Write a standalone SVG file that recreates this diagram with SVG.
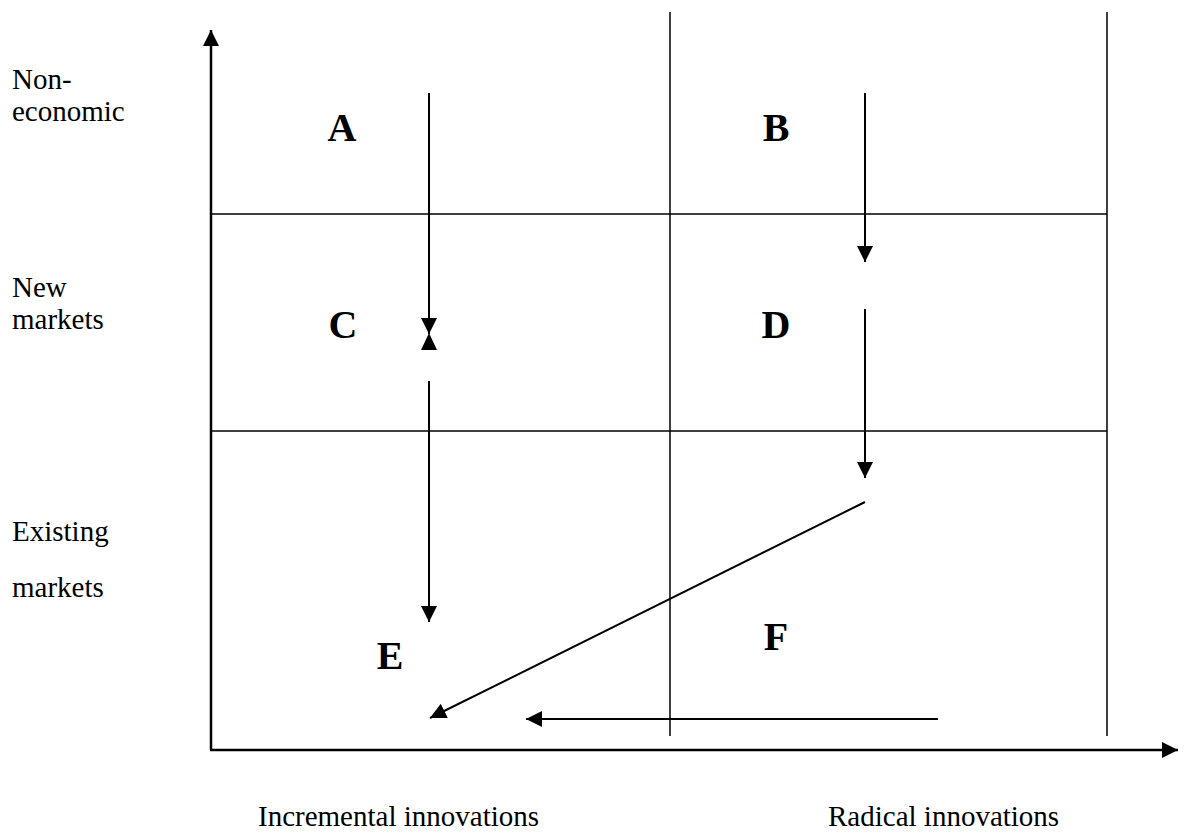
<svg xmlns="http://www.w3.org/2000/svg" width="1184" height="833" viewBox="0 0 1184 833">
<style>
.lbl{font-family:"Liberation Serif","Times New Roman",serif;font-size:29px;fill:#000}
.big{font-family:"Liberation Serif","Times New Roman",serif;font-size:40px;font-weight:bold;fill:#000;text-anchor:middle}
.grid{stroke:#000;stroke-width:1.5;fill:none}
.axis{stroke:#000;stroke-width:2.5;fill:none}
.arr{stroke:#000;stroke-width:2;fill:none}
</style>
<defs>
<marker id="ah" viewBox="0 0 16 16" refX="16" refY="8" markerWidth="16" markerHeight="16" markerUnits="userSpaceOnUse" orient="auto">
<path d="M0,0 L16,8 L0,16 z" fill="#000"/>
</marker>
</defs>
<rect width="1184" height="833" fill="#fff"/>
<g id="grid">
<line class="grid" x1="670" y1="12" x2="670" y2="736"/>
<line class="grid" x1="1107" y1="12" x2="1107" y2="736"/>
<line class="grid" x1="210" y1="214" x2="1107" y2="214"/>
<line class="grid" x1="210" y1="431" x2="1107" y2="431"/>
</g>
<g id="axes">
<line class="axis" x1="211" y1="750" x2="211" y2="30" marker-end="url(#ah)"/>
<line class="axis" x1="210" y1="750" x2="1178" y2="750" marker-end="url(#ah)"/>
</g>
<g id="connectors">
<line class="arr" x1="429" y1="93" x2="429" y2="334" marker-end="url(#ah)"/>
<polygon points="429,333 421,350 437,350" fill="#000"/>
<line class="arr" x1="429" y1="381" x2="429" y2="622" marker-end="url(#ah)"/>
<line class="arr" x1="865" y1="93" x2="865" y2="262" marker-end="url(#ah)"/>
<line class="arr" x1="865" y1="309" x2="865" y2="478" marker-end="url(#ah)"/>
<line class="arr" x1="865" y1="502" x2="430" y2="718" marker-end="url(#ah)"/>
<line class="arr" x1="938" y1="719" x2="526" y2="719" marker-end="url(#ah)"/>
</g>
<g id="node-A"><text class="big" x="342" y="141">A</text></g>
<g id="node-B"><text class="big" x="776" y="141">B</text></g>
<g id="node-C"><text class="big" x="343" y="338">C</text></g>
<g id="node-D"><text class="big" x="776" y="338">D</text></g>
<g id="node-E"><text class="big" x="390" y="669">E</text></g>
<g id="node-F"><text class="big" x="776" y="650">F</text></g>
<g id="y-labels">
<text class="lbl" x="12" y="89">Non-</text>
<text class="lbl" x="12" y="121">economic</text>
<text class="lbl" x="12" y="297">New</text>
<text class="lbl" x="12" y="329">markets</text>
<text class="lbl" x="12" y="541">Existing</text>
<text class="lbl" x="12" y="597">markets</text>
</g>
<g id="x-labels">
<text class="lbl" x="258" y="826">Incremental innovations</text>
<text class="lbl" x="828" y="826">Radical innovations</text>
</g>
</svg>
